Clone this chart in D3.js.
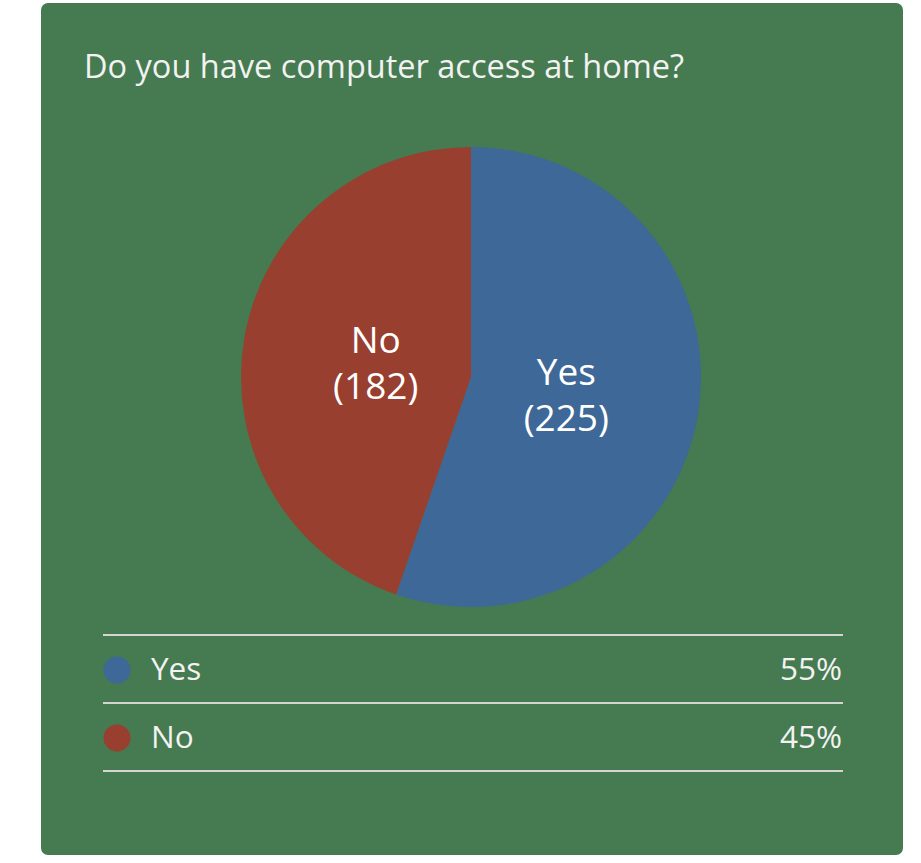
<!DOCTYPE html>
<html>
<head>
<meta charset="utf-8">
<script src="https://cdn.jsdelivr.net/npm/d3@7"></script>
<style>
  html, body { margin: 0; padding: 0; background: #ffffff; }
  svg { display: block; font-family: "Open Sans", sans-serif; }
</style>
</head>
<body>
<svg id="chart" width="921" height="863"></svg>
<script>
// Survey answers
const title = "Do you have computer access at home?";
const categories = ["Yes", "No"];
const counts = [225, 182];
const percentLabels = ["55%", "45%"];
const colors = ["#3e6897", "#983f2f"];

const W = 921, H = 863;
const svg = d3.select("#chart");

// Card background
svg.append("rect")
  .attr("x", 41).attr("y", 3)
  .attr("width", 862).attr("height", 852)
  .attr("rx", 7).attr("ry", 7)
  .attr("fill", "#467a50");

// Title
svg.append("text")
  .attr("x", 84).attr("y", 78)
  .attr("fill", "#f2f2f2")
  .attr("font-size", 32.5)
  .text(title);

// Pie
const cx = 471, cy = 377, radius = 230;
const pie = d3.pie().sort(null).value(d => d.value);
const arcs = pie(categories.map((c, i) => ({ name: c, value: counts[i], color: colors[i] })));
const arc = d3.arc().innerRadius(0).outerRadius(radius);
const labelArc = d3.arc().innerRadius(radius * 0.42).outerRadius(radius * 0.42);

const g = svg.append("g").attr("transform", `translate(${cx},${cy})`);
g.selectAll("path.slice")
  .data(arcs)
  .join("path")
  .attr("class", "slice")
  .attr("d", arc)
  .attr("fill", d => d.data.color);

const lbl = g.selectAll("text.slice-label")
  .data(arcs)
  .join("text")
  .attr("class", "slice-label")
  .attr("transform", d => `translate(${labelArc.centroid(d)})`)
  .attr("text-anchor", "middle")
  .attr("fill", "#ffffff")
  .attr("font-size", 37);
lbl.append("tspan").attr("x", 0).attr("dy", -8).text(d => d.data.name);
lbl.append("tspan").attr("x", 0).attr("dy", 46).text(d => `(${d.data.value})`);

// Legend table
const rowY = d3.scaleBand().domain(categories).range([635, 771]);
const lx0 = 103, lx1 = 843;
const legend = svg.append("g");

legend.selectAll("line.sep")
  .data([635, 703, 771])
  .join("line")
  .attr("class", "sep")
  .attr("x1", lx0).attr("x2", lx1)
  .attr("y1", d => d).attr("y2", d => d)
  .attr("stroke", "#d4d4d0")
  .attr("stroke-width", 2);

const rows = legend.selectAll("g.row")
  .data(categories)
  .join("g")
  .attr("class", "row")
  .attr("transform", d => `translate(0,${rowY(d) + rowY.bandwidth() / 2})`);

rows.append("circle")
  .attr("cx", 117).attr("cy", 1)
  .attr("r", 13.5)
  .attr("fill", (d, i) => colors[i]);

rows.append("text")
  .attr("x", 151).attr("y", 11)
  .attr("fill", "#f2f2f2")
  .attr("font-size", 31.5)
  .text(d => d);

rows.append("text")
  .attr("x", 842).attr("y", 11)
  .attr("text-anchor", "end")
  .attr("fill", "#f2f2f2")
  .attr("font-size", 31.5)
  .text((d, i) => percentLabels[i]);
</script>
</body>
</html>
